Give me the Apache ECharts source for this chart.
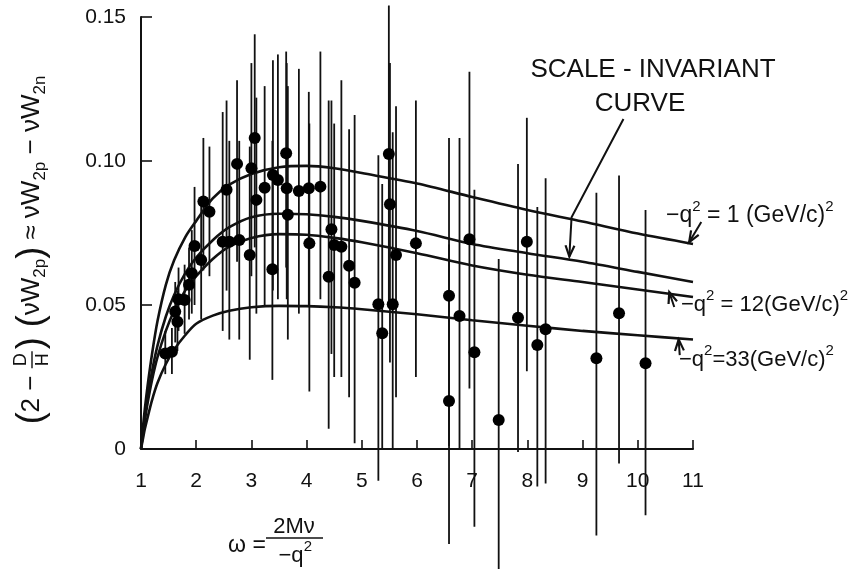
<!DOCTYPE html>
<html><head><meta charset="utf-8">
<script src="https://cdn.jsdelivr.net/npm/echarts@6/dist/echarts.min.js"></script>
<style>html,body{margin:0;padding:0;background:#fff}#c{width:860px;height:569px}</style>
</head><body><div id="c"></div>
<script>
// ---- data ----
const omega  = [1.44,1.56,1.62,1.66,1.68,1.79,1.87,1.92,1.97,2.09,2.13,2.24,2.48,2.55,2.60,2.74,2.78,2.97,3.00,3.06,3.09,3.24,3.38,3.39,3.48,3.63,3.64,3.66,3.86,4.04,4.05,4.25,4.40,4.45,4.50,4.63,4.77,4.87,5.30,5.37,5.49,5.51,5.56,5.62,5.98,6.58,6.58,6.77,6.95,7.04,7.48,7.83,7.99,8.18,8.33,9.25,9.66,10.14];
const nuW    = [0.0332,0.0338,0.0477,0.0442,0.0520,0.0517,0.0570,0.0610,0.0705,0.0656,0.0859,0.0824,0.0720,0.0900,0.0720,0.0990,0.0726,0.0674,0.0975,0.1080,0.0865,0.0907,0.0624,0.0951,0.0934,0.1027,0.0905,0.0813,0.0896,0.0905,0.0714,0.0911,0.0598,0.0763,0.0708,0.0702,0.0636,0.0577,0.0503,0.0402,0.1024,0.0850,0.0503,0.0674,0.0714,0.0532,0.0167,0.0462,0.0728,0.0336,0.0101,0.0456,0.0720,0.0361,0.0416,0.0315,0.0471,0.0298];
const errLow = [0.026,0.026,0.037,0.034,0.041,0.040,0.045,0.047,0.050,0.045,0.062,0.060,0.041,0.055,0.038,0.065,0.038,0.031,0.060,0.070,0.047,0.050,0.024,0.055,0.052,0.063,0.052,0.038,0.047,0.050,0.020,0.052,0.007,0.033,0.025,0.025,0.018,0.002,-0.011,0.000,0.050,0.030,0.000,0.018,0.025,0.001,-0.033,0.000,0.021,-0.027,-0.042,-0.001,0.027,-0.013,-0.012,-0.030,-0.005,-0.023];
const errHigh= [0.041,0.042,0.058,0.055,0.063,0.064,0.070,0.076,0.091,0.086,0.108,0.105,0.117,0.121,0.107,0.128,0.107,0.105,0.134,0.144,0.122,0.126,0.107,0.135,0.137,0.138,0.134,0.126,0.132,0.124,0.113,0.138,0.121,0.121,0.113,0.128,0.111,0.116,0.102,0.092,0.154,0.134,0.110,0.119,0.121,0.108,0.071,0.108,0.131,0.090,0.066,0.099,0.115,0.084,0.094,0.089,0.095,0.083];

const curveX   = [1,1.03,1.07,1.12,1.2,1.3,1.45,1.6,1.8,2.0,2.3,2.6,3.0,3.5,4.0,4.5,5.0,6.0,7.0,8.0,9.0,10.0,11.0];
const curveQ1  = [0,0.0065,0.014,0.022,0.033,0.0445,0.057,0.0655,0.0735,0.0792,0.087,0.0918,0.0955,0.0978,0.0983,0.0975,0.0958,0.0922,0.0875,0.0830,0.0790,0.0748,0.0712];
const curveSI  = [0,0.005,0.011,0.018,0.027,0.036,0.046,0.0535,0.061,0.0665,0.0725,0.0770,0.0805,0.0817,0.0815,0.0806,0.0792,0.0757,0.0712,0.0680,0.0650,0.0615,0.0580];
const curveQ12 = [0,0.0045,0.010,0.016,0.024,0.032,0.041,0.048,0.055,0.060,0.066,0.0703,0.0733,0.0746,0.0744,0.0733,0.0718,0.0680,0.0637,0.0605,0.0580,0.0554,0.0528];
const curveQ33 = [0,0.003,0.007,0.011,0.017,0.023,0.0295,0.0345,0.0395,0.0435,0.0463,0.0480,0.0492,0.0497,0.0496,0.0492,0.0485,0.0468,0.0447,0.0428,0.0410,0.0395,0.0380];

const xTickLabels = ['1','2','3','4','5','6','7','8','9','10','11'];
const yTickLabels = ['0','0.05','0.10','0.15'];

// annotation anchors (data units): [start, (elbow), tip]
const arrowSI  = [[9.74,0.1146],[8.80,0.0805],[8.76,0.0668]];
const arrowQ1  = [[11.15,0.0788],[10.93,0.0718]];
const arrowQ12 = [[10.66,0.0493],[10.57,0.0545]];
const arrowQ33 = [[10.76,0.0326],[10.74,0.0380]];

const INK = '#111111';
const FONT = '"Liberation Sans", Arial, sans-serif';

const chart = echarts.init(document.getElementById('c'), null, {renderer:'canvas'});

function lineSeries(ys){
  return {type:'line', data: curveX.map((x,i)=>[x,ys[i]]), showSymbol:false, smooth:0.3,
          lineStyle:{color:INK, width:2.6}, z:3, silent:true};
}

chart.setOption({
  backgroundColor:'#ffffff',
  animation:false,
  grid:{left:141, right:167, top:17, bottom:120},
  xAxis:{type:'value', min:1, max:11, interval:1,
    axisLine:{show:true, lineStyle:{color:INK, width:2}},
    axisTick:{show:true, inside:true, length:9, lineStyle:{color:INK, width:1.6}},
    axisLabel:{color:INK, fontSize:21, fontFamily:FONT, margin:22,
      formatter:v=>xTickLabels[Math.round(v)-1] || ''},
    splitLine:{show:false}},
  yAxis:{type:'value', min:0, max:0.15, interval:0.05,
    axisLine:{show:true, lineStyle:{color:INK, width:2}},
    axisTick:{show:true, inside:true, length:11, lineStyle:{color:INK, width:1.6}},
    axisLabel:{color:INK, fontSize:21, fontFamily:FONT, margin:15,
      formatter:v=>yTickLabels[Math.round(v/0.05)] || ''},
    splitLine:{show:false}},
  series:[
    lineSeries(curveQ1), lineSeries(curveSI), lineSeries(curveQ12), lineSeries(curveQ33),
    {type:'custom', clip:false, z:2, silent:true,
      data: omega.map((x,i)=>[x,errLow[i],errHigh[i]]),
      encode:{x:0, y:[1,2]},
      renderItem:(params, api)=>{
        const x=api.value(0), a=api.coord([x,api.value(1)]), b=api.coord([x,api.value(2)]);
        return {type:'line', shape:{x1:a[0],y1:a[1],x2:b[0],y2:b[1]}, style:{stroke:INK, lineWidth:1.8}};
      }},
    {type:'scatter', clip:false, z:4, silent:true, symbol:'circle', symbolSize:12,
      itemStyle:{color:'#000', opacity:1}, data: omega.map((x,i)=>[x,nuW[i]])}
  ]
});

// ---------- annotations ----------
const px = p => chart.convertToPixel({gridIndex:0}, p);
const g = [];
function arrow(pts){
  const P = pts.map(px);
  g.push({type:'polyline', shape:{points:P}, style:{stroke:INK, lineWidth:2, fill:null}, z:10});
  const tip = P[P.length-1], from = P[P.length-2];
  const ang = Math.atan2(tip[1]-from[1], tip[0]-from[0]);
  const L = 12, h = 0.38;
  const h1 = [tip[0]-L*Math.cos(ang-h), tip[1]-L*Math.sin(ang-h)];
  const h2 = [tip[0]-L*Math.cos(ang+h), tip[1]-L*Math.sin(ang+h)];
  g.push({type:'polyline', shape:{points:[h1,tip,h2]}, style:{stroke:INK, lineWidth:2.2, fill:null}, z:10});
}
arrow(arrowSI); arrow(arrowQ1); arrow(arrowQ12); arrow(arrowQ33);

function txt(text, x, y, size, align, extra){
  return Object.assign({type:'text', x, y, z:10,
    style:{text, font: size+'px '+FONT, fill:INK, textAlign:align||'left', textVerticalAlign:'middle', verticalAlign:'middle'}}, extra||{});
}
g.push(txt('SCALE - INVARIANT', 653, 70, 26, 'center'));
g.push(txt('CURVE', 640, 104, 26, 'center'));

function richLabel(parts, x, y, size){
  const s = parts.map(p => p[1] ? '{s|'+p[0]+'}' : '{a|'+p[0]+'}').join('');
  return {type:'text', x, y, z:10, style:{text:s, fill:INK, textAlign:'left', textVerticalAlign:'middle', verticalAlign:'middle',
    rich:{a:{fontSize:size, fontFamily:FONT, fill:INK, color:INK, lineHeight:28, verticalAlign:'bottom'},
          s:{fontSize:15, fontFamily:FONT, fill:INK, color:INK, lineHeight:28, verticalAlign:'top'}}}};
}
g.push(richLabel([['−q'],['2',1],[' = 1 (GeV/c)'],['2',1]], 666, 213, 23));
g.push(richLabel([['−q'],['2',1],[' = 12(GeV/c)'],['2',1]], 681, 302, 22));
g.push(richLabel([['−q'],['2',1],['=33(GeV/c)'],['2',1]], 679, 357, 22));

// x-axis title: omega = 2M nu / -q^2
g.push(txt('ω =', 247, 546, 23, 'center'));
g.push(txt('2Mν', 294, 527, 22, 'center'));
g.push({type:'line', shape:{x1:266,y1:538,x2:323,y2:538}, style:{stroke:INK, lineWidth:1.6}, z:10});
g.push(txt('−q', 291, 556, 22, 'center'));
g.push(txt('2', 308, 547, 15, 'center'));

// y-axis title (rotated)
const ctx = document.createElement('canvas').getContext('2d');
function mw(t, s){ ctx.font = s+'px '+FONT; return ctx.measureText(t).width; }
const pieces = [
  {t:'(', s:36}, {t:'2 − ', s:26}, {frac:['D','H'], s:18}, {t:')', s:36}, {t:' (', s:36},
  {t:'νW', s:26}, {t:'2p', s:17, dy:8}, {t:')', s:36}, {t:' ≈ ', s:26},
  {t:'νW', s:26}, {t:'2p', s:17, dy:8}, {t:' − ', s:26}, {t:'νW', s:26}, {t:'2n', s:17, dy:8}
];
let cur = 0; const kids = [];
pieces.forEach(p=>{
  if (p.frac){
    const w = Math.max(mw(p.frac[0],p.s), mw(p.frac[1],p.s)) + 4;
    kids.push(txt(p.frac[0], cur + w/2, -11, p.s, 'center'));
    kids.push(txt(p.frac[1], cur + w/2, 11, p.s, 'center'));
    kids.push({type:'line', shape:{x1:cur, y1:0, x2:cur+w, y2:0}, style:{stroke:INK, lineWidth:1.4}});
    cur += w + 2;
  } else {
    kids.push(txt(p.t, cur, p.dy||0, p.s, 'left'));
    cur += mw(p.t, p.s);
  }
});
const total = cur;
g.push({type:'group', x:32, y:250 + total/2, rotation:Math.PI/2, children:kids, z:10});

chart.setOption({graphic: g});
</script></body></html>
